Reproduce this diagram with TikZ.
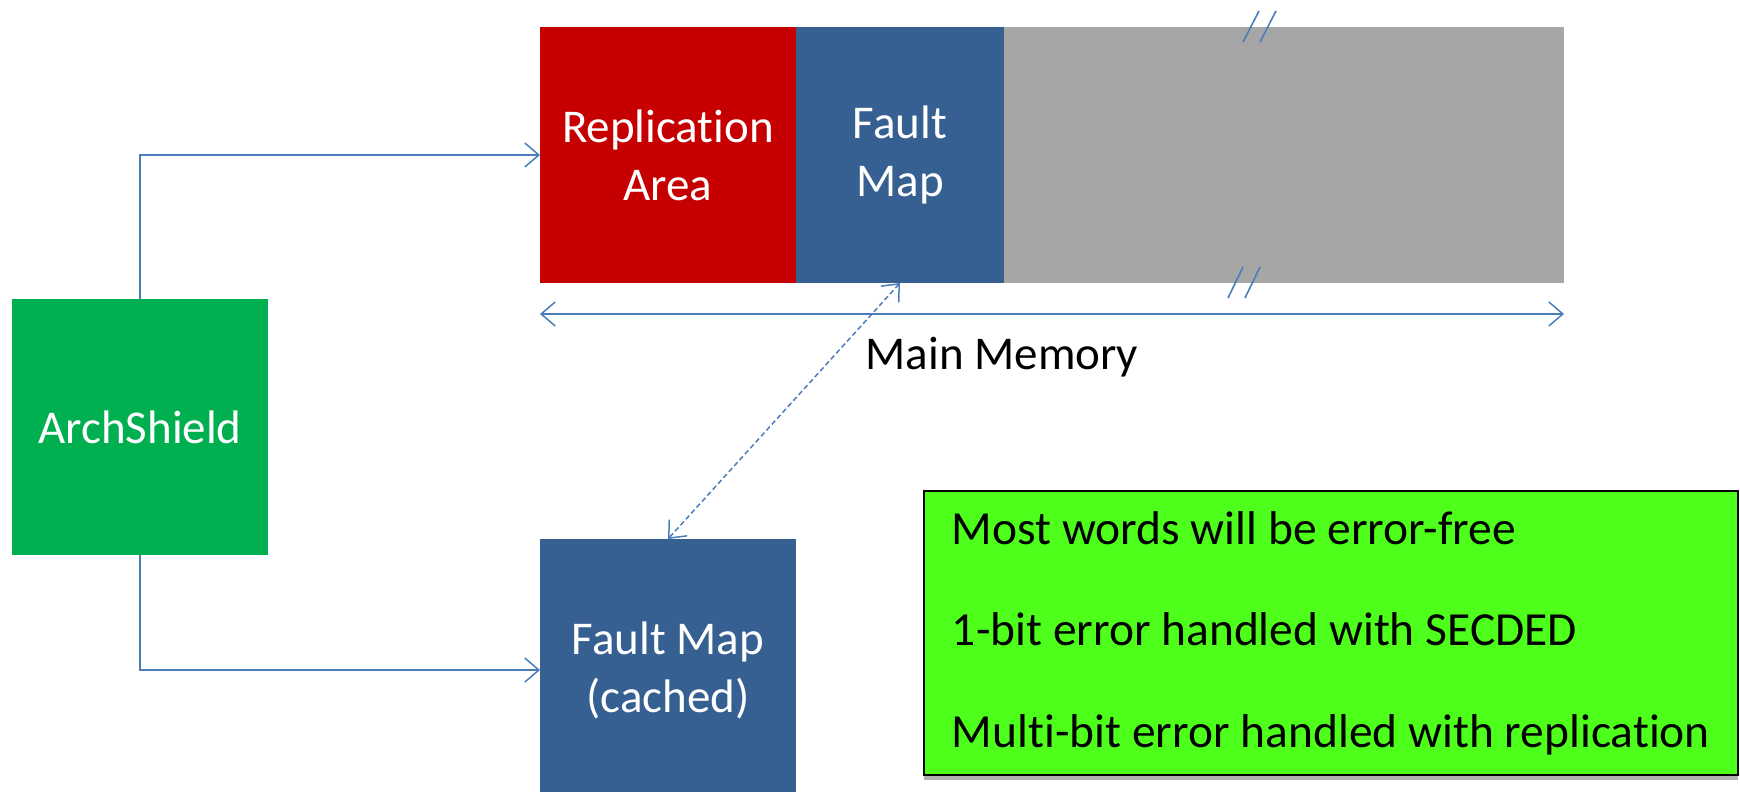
\documentclass[tikz,border=0pt]{standalone}
\usepackage{fontspec}
\setmainfont{Carlito}[Ligatures=NoCommon]
\usetikzlibrary{positioning, arrows.meta, shadows, calc}
\definecolor{RedA}{HTML}{C60000}
\definecolor{BlueA}{HTML}{376092}
\definecolor{GrayA}{HTML}{A6A6A6}
\definecolor{GreenA}{HTML}{00B050}
\definecolor{GreenB}{HTML}{4DFF1A}
\definecolor{LineA}{HTML}{4A7EBB}
\tikzset{
  blk/.style={inner sep=0pt, outer sep=0pt, align=center, text=white, font=\fontsize{47}{58}\selectfont},
  mem/.style={minimum height=256pt},
  label/.style={font=\fontsize{47}{58}\selectfont},
  link/.style={draw=LineA, line width=1.5pt, -{Straight Barb[length=14pt, width=24pt]}},
  span/.style={draw=LineA, line width=1.5pt, {Straight Barb[length=14pt, width=24pt]}-{Straight Barb[length=14pt, width=24pt]}},
  brk/.style={draw=LineA, line width=1.6pt},
  note/.style={draw=black, line width=1.5pt, fill=GreenB, align=left, inner sep=0pt,
    minimum width=814pt, minimum height=284pt, font=\fontsize{47.5}{101.5}\selectfont,
    drop shadow={shadow xshift=0pt, shadow yshift=-5pt, fill=black, opacity=0.3}}
}
\begin{document}
\begin{tikzpicture}[x=1pt, y=-1pt]
  \useasboundingbox (0,0) rectangle (1740,792);

  % memory layout
  \node[blk, mem, fill=RedA, minimum width=256pt] (repl) at (668,155) {Replication\\Area};
  \node[blk, mem, fill=BlueA, minimum width=208pt, right=0pt of repl] (fmap) {Fault\\Map};
  \node[blk, mem, fill=GrayA, minimum width=560pt, right=0pt of fmap] (rest) {};

  % break marks
  \foreach \dx in {0,17} {
    \draw[brk] (1243+\dx,42) -- (1259+\dx,11);
    \draw[brk] (1228+\dx,298) -- (1243+\dx,267);
  }

  \coordinate (spanL) at ($(repl.south west)+(0,31)$);
  \coordinate (spanR) at ($(rest.south east)+(0,31)$);
  \draw[span] (spanL) -- (spanR);
  \node[label] (memlabel) at (1002,357) {Main Memory};

  \node[blk, fill=GreenA, minimum width=256pt, minimum height=256pt] (shield) at (140,427) {ArchShield};
  \node[blk, fill=BlueA, minimum width=256pt, minimum height=262pt] (cached) at (668,670) {Fault Map\\(cached)};

  \draw[link] (shield.north) |- (repl.west);
  \draw[link] (shield.south) |- (cached.west);
  \draw[link, dashed, dash pattern=on 5pt off 3pt, {Straight Barb[length=14pt, width=24pt]}-{Straight Barb[length=14pt, width=24pt]}] (fmap.south) -- (cached.north);

  \node[note] (facts) at (1331,633) {Most words will be error-free\\1-bit error handled with SECDED\\Multi-bit error handled with replication};
\end{tikzpicture}
\end{document}
